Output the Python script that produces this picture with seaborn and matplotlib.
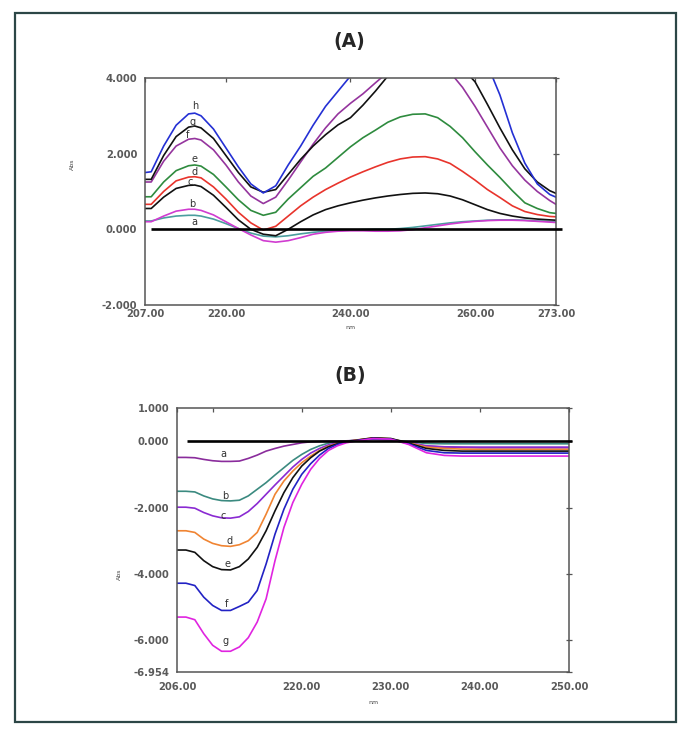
import numpy as np
import pandas as pd
import matplotlib.pyplot as plt
import seaborn as sns
from matplotlib.patches import Rectangle

# Panel A: wavelength grid and absorbance curves a-h
nm_a = [207, 208, 210, 212, 214, 215, 216, 218, 220, 222, 224, 226, 228, 230, 232, 234, 236, 238,
        240, 242, 244, 246, 248, 250, 252, 254, 256, 258, 260, 262, 264, 266, 268, 270, 272, 273]
a_a = [0.22, 0.22, 0.30, 0.35, 0.37, 0.37, 0.35, 0.27, 0.15, 0.02, -0.10, -0.18, -0.20, -0.17, -0.12, -0.08, -0.05, -0.03,
       -0.02, -0.01, 0.00, 0.00, 0.02, 0.05, 0.09, 0.13, 0.17, 0.20, 0.22, 0.24, 0.25, 0.25, 0.24, 0.22, 0.21, 0.20]
b_a = [0.20, 0.20, 0.35, 0.48, 0.53, 0.53, 0.50, 0.38, 0.20, 0.02, -0.15, -0.30, -0.34, -0.30, -0.22, -0.13, -0.08, -0.05,
       -0.04, -0.04, -0.05, -0.05, -0.04, -0.01, 0.04, 0.09, 0.14, 0.18, 0.21, 0.23, 0.24, 0.24, 0.23, 0.21, 0.19, 0.18]
c_a = [0.55, 0.55, 0.85, 1.08, 1.16, 1.17, 1.13, 0.90, 0.58, 0.25, 0.00, -0.13, -0.17, 0.00, 0.20, 0.38, 0.52, 0.62,
       0.70, 0.77, 0.83, 0.88, 0.92, 0.95, 0.96, 0.94, 0.88, 0.78, 0.65, 0.52, 0.42, 0.35, 0.30, 0.27, 0.25, 0.24]
d_a = [0.66, 0.66, 1.00, 1.28, 1.38, 1.39, 1.36, 1.12, 0.80, 0.45, 0.17, -0.02, 0.08, 0.35, 0.62, 0.85, 1.05, 1.22,
       1.38, 1.52, 1.65, 1.77, 1.86, 1.91, 1.92, 1.86, 1.74, 1.53, 1.30, 1.05, 0.84, 0.62, 0.47, 0.39, 0.34, 0.33]
e_a = [0.86, 0.86, 1.25, 1.55, 1.68, 1.70, 1.67, 1.45, 1.12, 0.78, 0.50, 0.37, 0.45, 0.80, 1.10, 1.40, 1.62, 1.90,
       2.18, 2.42, 2.62, 2.83, 2.97, 3.04, 3.05, 2.95, 2.72, 2.42, 2.05, 1.70, 1.37, 1.02, 0.70, 0.55, 0.44, 0.42]
f_a = [1.25, 1.25, 1.80, 2.20, 2.38, 2.40, 2.36, 2.10, 1.70, 1.25, 0.88, 0.68, 0.85, 1.30, 1.78, 2.25, 2.68, 3.05,
       3.33, 3.58, 3.87, 4.15, 4.35, 4.45, 4.45, 4.35, 4.15, 3.75, 3.25, 2.70, 2.15, 1.68, 1.30, 1.00, 0.76, 0.66]
g_a = [1.32, 1.32, 1.95, 2.45, 2.70, 2.73, 2.68, 2.40, 1.95, 1.50, 1.12, 0.98, 1.05, 1.45, 1.85, 2.20, 2.50, 2.76,
       2.95, 3.28, 3.65, 4.05, 4.40, 4.60, 4.70, 4.65, 4.50, 4.25, 3.90, 3.30, 2.68, 2.10, 1.60, 1.25, 1.02, 0.95]
h_a = [1.50, 1.52, 2.20, 2.75, 3.05, 3.07, 3.00, 2.65, 2.15, 1.65, 1.20, 0.96, 1.15, 1.70, 2.20, 2.75, 3.25, 3.65,
       4.05, 4.50, 5.00, 5.40, 5.70, 5.85, 5.85, 5.75, 5.60, 5.30, 4.85, 4.35, 3.55, 2.55, 1.75, 1.20, 0.92, 0.85]

# Panel B: wavelength grid and curves a-g
nm_b = [206, 207, 208, 209, 210, 211, 212, 213, 214, 215, 216, 217, 218, 219, 220, 221, 222, 223, 224, 225,
        226, 228, 230, 232, 234, 236, 238, 240, 245, 250]
a_b = [-0.49, -0.49, -0.50, -0.55, -0.59, -0.61, -0.61, -0.60, -0.52, -0.42, -0.30, -0.22, -0.15, -0.10, -0.05, -0.02,
       -0.01, 0.00, 0.00, 0.01, 0.02, 0.05, 0.03, -0.05, -0.15, -0.18, -0.19, -0.20, -0.20, -0.20]
b_b = [-1.51, -1.51, -1.53, -1.65, -1.74, -1.79, -1.80, -1.78, -1.65, -1.45, -1.25, -1.02, -0.80, -0.58, -0.40, -0.25,
       -0.14, -0.06, -0.02, 0.00, 0.03, 0.07, 0.05, -0.02, -0.07, -0.08, -0.08, -0.08, -0.08, -0.08]
c_b = [-1.99, -1.99, -2.02, -2.15, -2.25, -2.31, -2.32, -2.28, -2.12, -1.88, -1.60, -1.32, -1.05, -0.78, -0.55, -0.36,
       -0.22, -0.11, -0.05, -0.01, 0.03, 0.08, 0.06, -0.05, -0.14, -0.17, -0.18, -0.18, -0.18, -0.18]
d_b = [-2.70, -2.70, -2.75, -2.95, -3.08, -3.15, -3.17, -3.12, -3.00, -2.75, -2.20, -1.60, -1.20, -0.90, -0.65, -0.45,
       -0.28, -0.15, -0.07, -0.02, 0.03, 0.10, 0.07, -0.05, -0.18, -0.22, -0.24, -0.25, -0.25, -0.25]
e_b = [-3.28, -3.28, -3.35, -3.60, -3.78, -3.87, -3.88, -3.78, -3.55, -3.20, -2.70, -2.10, -1.55, -1.10, -0.75, -0.50,
       -0.30, -0.17, -0.08, -0.02, 0.02, 0.10, 0.08, -0.06, -0.22, -0.28, -0.30, -0.30, -0.30, -0.30]
f_b = [-4.28, -4.28, -4.35, -4.70, -4.95, -5.10, -5.10, -4.98, -4.85, -4.50, -3.70, -2.80, -2.05, -1.45, -1.00, -0.68,
       -0.42, -0.22, -0.10, -0.03, 0.01, 0.08, 0.06, -0.08, -0.28, -0.35, -0.36, -0.36, -0.36, -0.36]
g_b = [-5.30, -5.30, -5.38, -5.80, -6.15, -6.33, -6.33, -6.20, -5.92, -5.45, -4.75, -3.60, -2.60, -1.85, -1.30, -0.85,
       -0.52, -0.28, -0.14, -0.05, 0.00, 0.08, 0.06, -0.10, -0.35, -0.43, -0.45, -0.45, -0.45, -0.45]

colors_a = {'a': '#4b9e9e', 'b': '#d03cd0', 'c': '#111111', 'd': '#e8342c',
            'e': '#2e8b3e', 'f': '#95359e', 'g': '#111111', 'h': '#2430d4'}
colors_b = {'a': '#8a2c9c', 'b': '#3b8a80', 'c': '#8a2ad2', 'd': '#f08432',
            'e': '#111111', 'f': '#2222c4', 'g': '#e024e0'}

# letter positions (nm, Abs)
lab_a = {'a': (215.0, 0.18), 'b': (214.6, 0.68), 'c': (214.2, 1.25), 'd': (215.0, 1.52),
         'e': (215.0, 1.87), 'f': (213.9, 2.49), 'g': (214.7, 2.84), 'h': (215.0, 3.26)}
lab_b = {'a': (211.2, -0.39), 'b': (211.4, -1.66), 'c': (211.2, -2.24), 'd': (211.9, -3.02),
         'e': (211.7, -3.71), 'f': (211.6, -4.90), 'g': (211.4, -6.03)}

df_a = pd.DataFrame({'nm': nm_a, 'a': a_a, 'b': b_a, 'c': c_a, 'd': d_a, 'e': e_a, 'f': f_a, 'g': g_a, 'h': h_a})
df_a = df_a.melt(id_vars='nm', var_name='curve', value_name='Abs')
df_b = pd.DataFrame({'nm': nm_b, 'a': a_b, 'b': b_b, 'c': c_b, 'd': d_b, 'e': e_b, 'f': f_b, 'g': g_b})
df_b = df_b.melt(id_vars='nm', var_name='curve', value_name='Abs')

sns.set_theme(style='white')
plt.rcParams['font.family'] = ['DejaVu Sans']

fig = plt.figure(figsize=(6.98, 7.34), dpi=100)
fig.patches.append(Rectangle((15 / 698, 1 - 722 / 734), 661 / 698, 709 / 734, transform=fig.transFigure,
                             fill=False, edgecolor='#2c4646', linewidth=1.6))

axA = fig.add_axes([0.2077, 0.5845, 0.5888, 0.3093])
axB = fig.add_axes([0.2536, 0.0845, 0.5616, 0.3597])

tick_col = '#5a5a5a'


def style_axes(ax, xpad, nm_pad):
    for s in ax.spines.values():
        s.set_color('#555555')
        s.set_linewidth(1.1)
    ax.tick_params(axis='x', direction='in', top=True, length=3, width=0.9, color='#555555',
                   labelsize=7.2, labelcolor=tick_col, pad=xpad)
    ax.tick_params(axis='y', direction='inout', right=True, length=5, width=0.9, color='#555555',
                   labelsize=7.2, labelcolor=tick_col, pad=3)
    for t in ax.get_xticklabels() + ax.get_yticklabels():
        t.set_fontweight('bold')
    ax.set_xlabel('nm', fontsize=4.5, color='#444444', labelpad=nm_pad)
    ax.set_ylabel('Abs', fontsize=4.5, color='#444444')
    ax.grid(False)


# panel A
sns.lineplot(data=df_a, x='nm', y='Abs', hue='curve', palette=colors_a, ax=axA,
             legend=False, linewidth=1.2, estimator=None, sort=False)
axA.hlines(0, 208, 274, color='black', linewidth=1.9, clip_on=False, zorder=5)
axA.set_xlim(207, 273)
axA.set_ylim(-2, 4)
axA.set_xticks([207, 220, 240, 260, 273])
axA.set_xticklabels(['207.00', '220.00', '240.00', '260.00', '273.00'])
axA.set_yticks([-2, 0, 2, 4])
axA.set_yticklabels(['-2.000', '0.000', '2.000', '4.000'])
style_axes(axA, 3, 4)
axA.yaxis.set_label_coords(-0.17, 0.62)
for k, (x, y) in lab_a.items():
    axA.text(x, y, k, fontsize=7, color='#333333', ha='center', va='center')
fig.text(0.501, 0.943, '(A)', fontsize=13.5, fontweight='bold', ha='center', va='center')

# panel B
sns.lineplot(data=df_b, x='nm', y='Abs', hue='curve', palette=colors_b, ax=axB,
             legend=False, linewidth=1.2, estimator=None, sort=False)
axB.hlines(0, 207.1, 250.3, color='black', linewidth=1.9, clip_on=False, zorder=5)
axB.set_xlim(206, 250)
axB.set_ylim(-6.954, 1)
axB.set_xticks([206, 210, 220, 230, 240, 250])
axB.set_xticklabels(['206.00', '', '220.00', '230.00', '240.00', '250.00'])
axB.set_yticks([-6.954, -6, -4, -2, 0, 1])
axB.set_yticklabels(['-6.954', '-6.000', '-4.000', '-2.000', '0.000', '1.000'])
style_axes(axB, 7, 6)
axB.yaxis.set_label_coords(-0.14, 0.37)
for k, (x, y) in lab_b.items():
    axB.text(x, y, k, fontsize=7, color='#333333', ha='center', va='center')
fig.text(0.501, 0.489, '(B)', fontsize=13.5, fontweight='bold', ha='center', va='center')

fig.savefig('out.png', dpi=100)
